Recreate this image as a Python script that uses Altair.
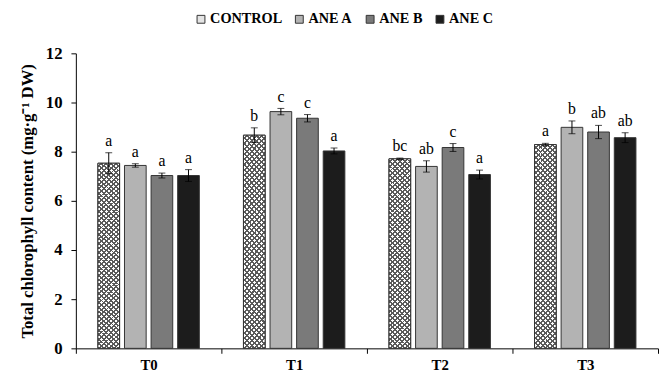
import altair as alt
import pandas as pd

groups = ["T0", "T1", "T2", "T3"]
treatments = ["CONTROL", "ANE A", "ANE B", "ANE C"]
values = {
    "CONTROL": [7.53, 8.67, 7.71, 8.29],
    "ANE A": [7.44, 9.63, 7.40, 8.99],
    "ANE B": [7.03, 9.36, 8.17, 8.80],
    "ANE C": [7.03, 8.03, 7.07, 8.57],
}
errors = {
    "CONTROL": [0.43, 0.30, 0.03, 0.05],
    "ANE A": [0.07, 0.13, 0.23, 0.26],
    "ANE B": [0.10, 0.15, 0.16, 0.27],
    "ANE C": [0.24, 0.12, 0.18, 0.20],
}
letters = {
    "CONTROL": ["a", "b", "bc", "a"],
    "ANE A": ["a", "c", "ab", "b"],
    "ANE B": ["a", "c", "c", "ab"],
    "ANE C": ["a", "a", "a", "ab"],
}
colors = ["#e4e4e4", "#b3b3b3", "#7a7a7a", "#1c1c1c"]

rows = []
for t in treatments:
    for i, g in enumerate(groups):
        v = values[t][i]
        e = errors[t][i]
        rows.append({"group": g, "treatment": t, "value": v,
                     "low": v - e, "high": v + e, "letter": letters[t][i]})
df = pd.DataFrame(rows)

SERIF = "Liberation Serif"
LINE = "#5a5a5a"


def stripes(x1, y1, x2, y2, bg, n=45, f=0.6):
    stops = []
    for i in range(n):
        stops += [
            {"offset": round(i / n, 5), "color": bg},
            {"offset": round((i + f) / n, 5), "color": bg},
            {"offset": round((i + f) / n, 5), "color": LINE},
            {"offset": round((i + 1) / n, 5), "color": LINE},
        ]
    return {"gradient": "linear", "x1": x1, "y1": y1, "x2": x2, "y2": y2,
            "stops": stops}


gradA = stripes(0, 0, 0.12, 1.096, "#ffffff")
gradB = stripes(1, 0, 0.88, 1.096, "rgba(255,255,255,0)")

x = alt.X("group:N", sort=groups,
          scale=alt.Scale(paddingInner=0, paddingOuter=0),
          axis=alt.Axis(title=None, tickBand="extent", labelFont=SERIF,
                        labelFontWeight="bold", labelFontSize=15,
                        labelColor="black", labelAngle=0, domainColor="black",
                        tickColor="black", tickSize=5, labelPadding=5))
xo = alt.XOffset("treatment:N", sort=treatments,
                 scale=alt.Scale(domain=treatments, paddingInner=0.185,
                                 paddingOuter=0.83))
y = alt.Y("value:Q", scale=alt.Scale(domain=[0, 12]),
          axis=alt.Axis(values=list(range(0, 13, 2)),
                        title="Total chlorophyll content (mg·g⁻¹ DW)",
                        titleFont=SERIF, titleFontWeight="bold",
                        titleFontSize=17, titleColor="black", titlePadding=9,
                        labelFont=SERIF, labelFontWeight="bold",
                        labelFontSize=17, labelColor="black", labelPadding=9,
                        grid=False, domainColor="black", tickColor="black",
                        tickSize=5))

base = alt.Chart(df)

bars = base.mark_bar(stroke="#333333", strokeWidth=1).encode(
    x=x, xOffset=xo, y=y,
    fill=alt.Fill("treatment:N", sort=treatments,
                  scale=alt.Scale(domain=treatments, range=colors),
                  legend=alt.Legend(orient="none", legendX=120, legendY=-42,
                                    direction="horizontal", title=None,
                                    labelFont=SERIF, labelFontWeight="bold",
                                    labelFontSize=14.5, labelColor="black",
                                    symbolType="square", symbolSize=64,
                                    symbolStrokeColor="#333333",
                                    symbolStrokeWidth=1, columnPadding=10,
                                    labelOffset=2)),
)

ctrl = base.transform_filter(alt.datum.treatment == "CONTROL")
hatchA = ctrl.mark_bar(fill=gradA, strokeWidth=0).encode(x=x, xOffset=xo, y=y)
hatchB = ctrl.mark_bar(fill=gradB, stroke="#333333", strokeWidth=1).encode(
    x=x, xOffset=xo, y=y)

err = base.mark_rule(color="black", strokeWidth=1).encode(
    x=x, xOffset=xo, y="low:Q", y2="high:Q")
capL = base.mark_tick(color="black", size=7, thickness=1).encode(
    x=x, xOffset=xo, y="low:Q")
capH = base.mark_tick(color="black", size=7, thickness=1).encode(
    x=x, xOffset=xo, y="high:Q")

txt = base.mark_text(font=SERIF, fontSize=16, color="black",
                     baseline="alphabetic", dy=-7).encode(
    x=x, xOffset=xo, y="high:Q", text="letter:N")

chart = alt.layer(bars, hatchA, hatchB, err, capL, capH, txt).properties(
    width=592, height=300,
    padding={"left": 11, "top": 1, "right": 0, "bottom": 0},
).configure_view(stroke=None)

chart.save("out.html", embed_options={"renderer": "svg", "actions": False})
